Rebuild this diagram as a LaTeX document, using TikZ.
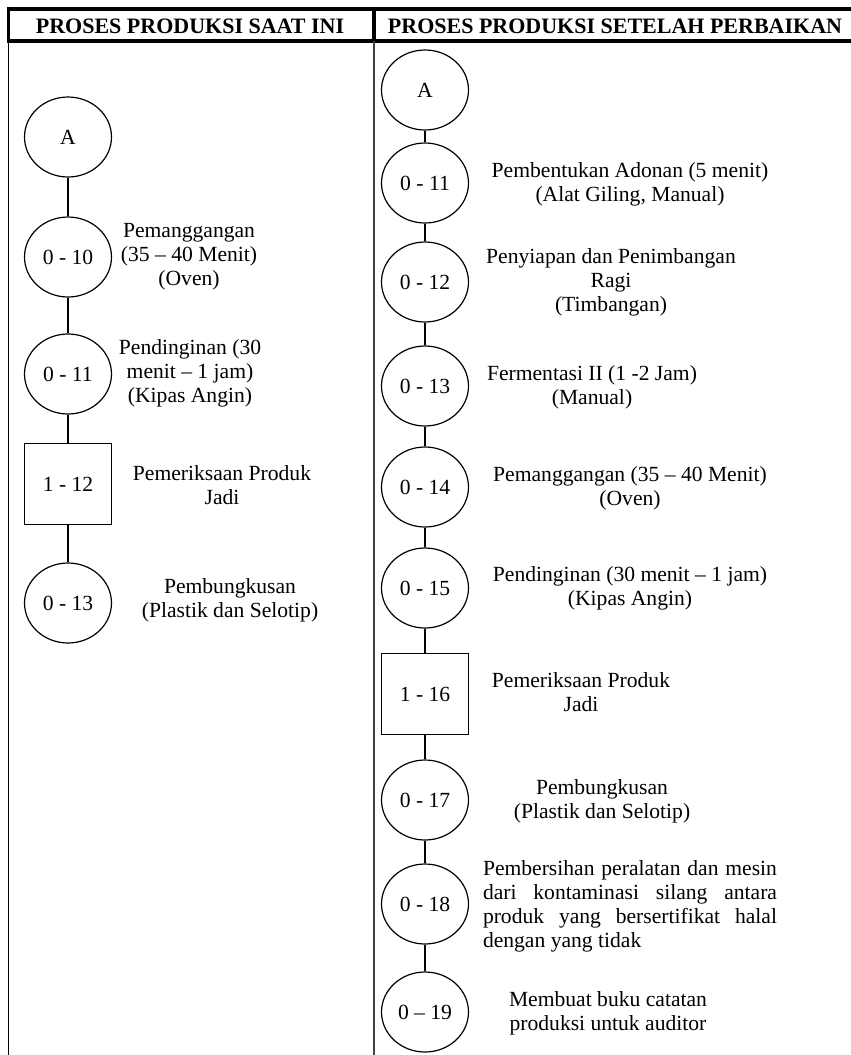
\documentclass[tikz,border=0pt]{standalone}
\usepackage{fontspec}
\setmainfont{Liberation Serif}
\usetikzlibrary{shapes.geometric}
\begin{document}
\begin{tikzpicture}[x=1pt,y=-1pt,
  txt/.style={font=\fontsize{21.6}{24}\selectfont},
  proc/.style={txt,draw,ellipse,line width=1.2pt,minimum width=87pt,minimum height=80pt,inner sep=0pt},
  insp/.style={txt,draw,rectangle,line width=1.2pt,minimum width=87pt,minimum height=81pt,inner sep=0pt},
  desc/.style={txt,align=center,inner sep=0pt},
  head/.style={font=\bfseries\fontsize{22}{24}\selectfont,inner sep=0pt},
  link/.style={line width=1.2pt},
  frame/.style={line width=3.5pt,line join=miter}]
\useasboundingbox (0,0) rectangle (851,1055);
\fill[white] (0,0) rectangle (851,1055);
% table frame
\draw[frame] (853,9) -- (8.3,9) -- (8.3,41) -- (853,41);
\draw[frame] (374,9) -- (374,41);
\draw[line width=1.6pt] (8.3,41) -- (8.3,1056);
\draw[line width=2.2pt,black!75] (374,41) -- (374,1056);
% headers
\node[head] (h1) at (190,26) {PROSES PRODUKSI SAAT INI};
\node[head] (h2) at (615,26) {PROSES PRODUKSI SETELAH PERBAIKAN};
% left column
\node[proc] (lA) at (68,137) {A};
\node[proc] (l10) at (68,257) {0 - 10};
\node[proc] (l11) at (68,374) {0 - 11};
\node[insp] (l12) at (68,484) {1 - 12};
\node[proc] (l13) at (68,603) {0 - 13};
\draw[link] (lA) -- (l10);
\draw[link] (l10) -- (l11);
\draw[link] (l11) -- (l12);
\draw[link] (l12) -- (l13);
\node[desc] (tl10) at (189,257) {Pemanggangan\\(35 – 40 Menit)\\(Oven)};
\node[desc] (tl11) at (190,373) {Pendinginan (30\\menit – 1 jam)\\(Kipas Angin)};
\node[desc] (tl12) at (222,485) {Pemeriksaan Produk\\Jadi};
\node[desc] (tl13) at (230,600) {Pembungkusan\\(Plastik dan Selotip)};
% right column
\node[proc] (rA) at (425,90) {A};
\node[proc] (r11) at (425,183) {0 - 11};
\node[proc] (r12) at (425,282) {0 - 12};
\node[proc] (r13) at (425,386) {0 - 13};
\node[proc] (r14) at (425,487) {0 - 14};
\node[proc] (r15) at (425,588) {0 - 15};
\node[insp] (r16) at (425,694) {1 - 16};
\node[proc] (r17) at (425,800) {0 - 17};
\node[proc] (r18) at (425,904) {0 - 18};
\node[proc] (r19) at (425,1012) {0 – 19};
\draw[link] (rA) -- (r11);
\draw[link] (r11) -- (r12);
\draw[link] (r12) -- (r13);
\draw[link] (r13) -- (r14);
\draw[link] (r14) -- (r15);
\draw[link] (r15) -- (r16);
\draw[link] (r16) -- (r17);
\draw[link] (r17) -- (r18);
\draw[link] (r18) -- (r19);
\node[desc] (tr11) at (630,184) {Pembentukan Adonan (5 menit)\\(Alat Giling, Manual)};
\node[desc] (tr12) at (611,282) {Penyiapan dan Penimbangan\\Ragi\\(Timbangan)};
\node[desc] (tr13) at (592,387) {Fermentasi II (1 -2 Jam)\\(Manual)};
\node[desc] (tr14) at (630,488) {Pemanggangan (35 – 40 Menit)\\(Oven)};
\node[desc] (tr15) at (630,588) {Pendinginan (30 menit – 1 jam)\\(Kipas Angin)};
\node[desc] (tr16) at (581,692) {Pemeriksaan Produk\\Jadi};
\node[desc] (tr17) at (602,801) {Pembungkusan\\(Plastik dan Selotip)};
\node[txt,inner sep=0pt,text width=294pt,align=justify] (tr18) at (630,906)
  {Pembersihan peralatan dan mesin\linebreak dari kontaminasi silang antara\linebreak produk yang bersertifikat halal\linebreak dengan yang tidak};
\node[desc] (tr19) at (608,1013) {Membuat buku catatan\\produksi untuk auditor};
\end{tikzpicture}
\end{document}
